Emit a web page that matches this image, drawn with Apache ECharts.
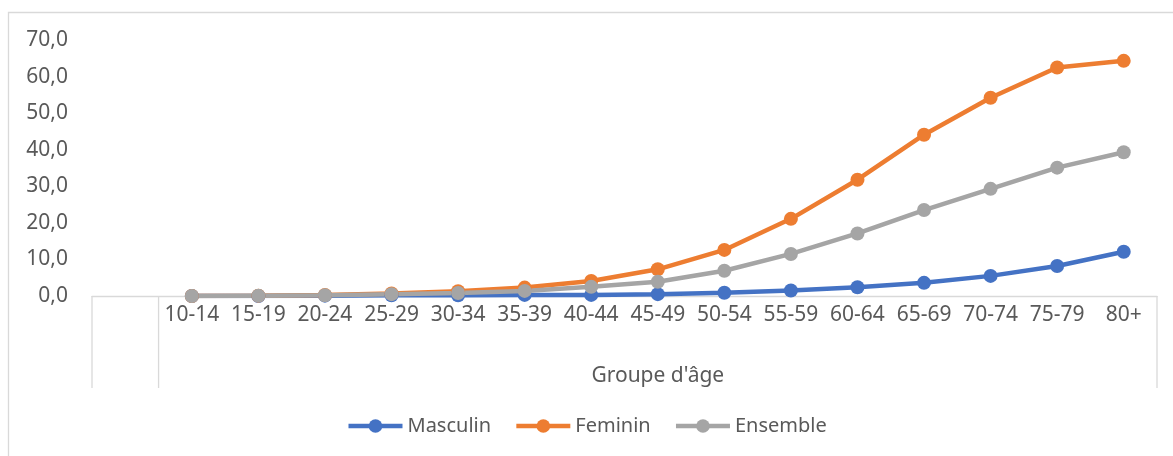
<!DOCTYPE html>
<html>
<head>
<meta charset="utf-8">
<script src="https://cdn.jsdelivr.net/npm/echarts@6/dist/echarts.min.js"></script>
<style>
  html, body { margin: 0; padding: 0; background: #fff; }
  #chart { width: 1173px; height: 456px; }
</style>
</head>
<body>
<div id="chart"></div>
<script>
// first category is left empty, like the source sheet
const ageGroups = ["", "10-14", "15-19", "20-24", "25-29", "30-34", "35-39", "40-44",
  "45-49", "50-54", "55-59", "60-64", "65-69", "70-74", "75-79", "80+"];
const masculin = [null, 0.0, 0.0, 0.1, 0.2, 0.2, 0.3, 0.3, 0.5, 0.9, 1.5, 2.4, 3.6, 5.5, 8.2, 12.1];
const feminin  = [null, 0.0, 0.1, 0.3, 0.7, 1.3, 2.3, 4.1, 7.3, 12.6, 21.1, 31.8, 44.1, 54.2, 62.5, 64.3];
const ensemble = [null, 0.0, 0.1, 0.2, 0.5, 0.8, 1.4, 2.5, 3.9, 6.9, 11.5, 17.1, 23.5, 29.3, 35.1, 39.3];
const yTicks = { min: 0, max: 70, step: 10 };

const W = 1173, H = 456;
const grid = { left: 92, right: 16, top: 40, bottom: 160 };
const gridW = W - grid.left - grid.right;
const bandW = gridW / ageGroups.length;
const axisY = H - grid.bottom;
const frameColor = "#d9d9d9";
const textColor = "#595959";
const font = "'Noto Sans', sans-serif";
const fs = 21;

const chart = echarts.init(document.getElementById("chart"));

function lineSeries(name, data, color) {
  return {
    name: name,
    type: "line",
    data: data,
    symbol: "circle",
    symbolSize: 14,
    lineStyle: { color: color, width: 4.5 },
    itemStyle: { color: color },
    emphasis: { disabled: true },
    animation: false,
  };
}

const vLine = (x) => ({
  type: "line",
  shape: { x1: x, y1: axisY, x2: x, y2: axisY + 92 },
  style: { stroke: frameColor, lineWidth: 1.3 },
});

const option = {
  backgroundColor: "#fff",
  animation: false,
  grid: grid,
  legend: {
    bottom: 15,
    left: "center",
    itemWidth: 54,
    itemHeight: 17,
    itemGap: 23,
    lineStyle: { width: 4.5 },
    textStyle: { color: textColor, fontSize: 20, fontFamily: font },
    data: ["Masculin", "Feminin", "Ensemble"],
  },
  xAxis: {
    type: "category",
    data: ageGroups,
    boundaryGap: true,
    axisLine: { show: true, lineStyle: { color: frameColor, width: 1.3 } },
    axisTick: { show: false },
    axisLabel: {
      color: textColor,
      fontSize: fs,
      fontFamily: font,
      margin: 9,
      interval: 0,
    },
  },
  yAxis: {
    type: "value",
    min: yTicks.min,
    max: yTicks.max,
    interval: yTicks.step,
    axisLine: { show: false },
    axisTick: { show: false },
    splitLine: { show: false },
    axisLabel: {
      color: textColor,
      fontSize: fs,
      fontFamily: font,
      margin: 24,
      padding: [3, 0, 0, 0],
      formatter: (v) => v.toFixed(1).replace(".", ","),
    },
  },
  graphic: [
    {
      type: "rect",
      shape: { x: 8.5, y: 12.5, width: W + 20, height: H + 20 },
      style: { fill: null, stroke: frameColor, lineWidth: 1.3 },
      silent: true,
    },
    vLine(grid.left),
    vLine(grid.left + bandW),
    vLine(W - grid.right),
    {
      type: "text",
      x: grid.left + bandW + (gridW - bandW) / 2,
      y: 376,
      style: {
        text: "Groupe d'âge",
        fill: textColor,
        font: fs + "px " + font,
        textAlign: "center",
        textVerticalAlign: "middle",
      },
    },
  ],
  series: [
    lineSeries("Masculin", masculin, "#4472C4"),
    lineSeries("Feminin", feminin, "#ED7D31"),
    lineSeries("Ensemble", ensemble, "#A5A5A5"),
  ],
};

chart.setOption(option);
</script>
</body>
</html>
